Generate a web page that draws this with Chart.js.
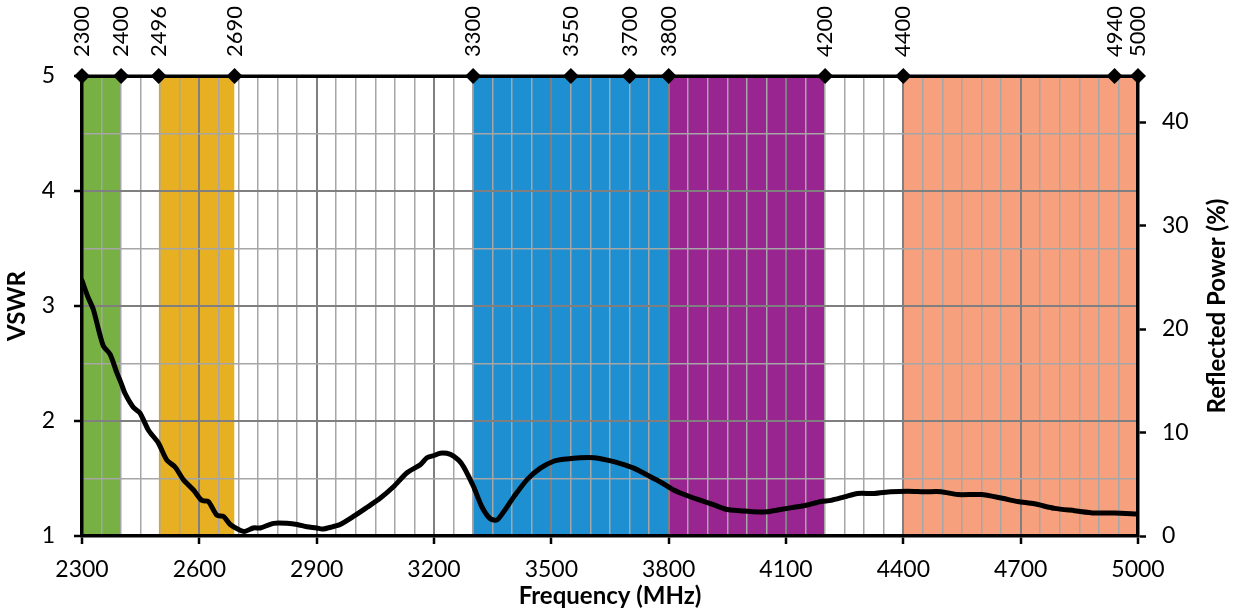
<!DOCTYPE html>
<html>
<head>
<meta charset="utf-8">
<script src="https://cdn.jsdelivr.net/npm/chart.js@4"></script>
<style>
html,body{margin:0;padding:0;background:#fff;}
#wrap{width:1235px;height:611px;position:relative;}
</style>
</head>
<body>
<div id="wrap"><canvas id="c"></canvas></div>
<script>
// ---- data ----
const freqMHz = [2300,2315,2329,2342,2355,2372,2389,2400,2410,2431,2448,2470,2495,2517,2538,2559,2585,2606,2623,2645,2662,2679,2704,2717,2738,2756,2790,2824,2850,2875,2900,2914,2940,2960,2994,3029,3063,3097,3131,3165,3182,3200,3216,3242,3263,3276,3301,3323,3344,3361,3378,3404,3438,3472,3506,3540,3574,3609,3643,3677,3711,3745,3779,3813,3848,3882,3916,3950,3984,4018,4052,4086,4121,4155,4189,4215,4249,4283,4326,4368,4411,4454,4497,4539,4599,4650,4693,4735,4787,4838,4889,4940,5000];
const vswr = [3.22,3.08,2.97,2.80,2.65,2.58,2.42,2.33,2.24,2.12,2.07,1.92,1.81,1.66,1.60,1.49,1.40,1.31,1.30,1.18,1.17,1.10,1.05,1.04,1.07,1.07,1.11,1.11,1.10,1.08,1.07,1.06,1.08,1.10,1.17,1.25,1.33,1.43,1.55,1.62,1.68,1.70,1.72,1.71,1.66,1.60,1.43,1.25,1.15,1.14,1.21,1.34,1.49,1.59,1.65,1.67,1.68,1.68,1.66,1.63,1.59,1.53,1.47,1.40,1.35,1.31,1.27,1.23,1.22,1.21,1.21,1.23,1.25,1.27,1.30,1.31,1.34,1.37,1.37,1.385,1.39,1.385,1.385,1.36,1.36,1.33,1.30,1.28,1.24,1.22,1.20,1.20,1.19];
const bandStart = [2300, 2496, 3300, 3800, 4400];
const bandEnd   = [2400, 2690, 3800, 4200, 5000];
const bandColors = ['#77b043', '#e6b022', '#1e8fd0', '#982590', '#f6a07d'];
const markerFreqs = [2300, 2400, 2496, 2690, 3300, 3550, 3700, 3800, 4200, 4400, 4940, 5000];
const xMin = 2300, xMax = 5000, xMinorStep = 50, xMajorStep = 300;
const yMin = 1, yMax = 5, yMinorStep = 0.25;
const powerMin = 0, powerStep = 10;
const powerMax = Math.pow((yMax - 1) / (yMax + 1), 2) * 100;

// ---- chart ----
Chart.defaults.font.family = 'Lato';
Chart.defaults.color = '#000';

const TOP_FONT = 22;
const TITLE_FONT = 24;

const isMult = (v, base, step) => Math.abs((v - base) / step - Math.round((v - base) / step)) < 1e-6;
const xMajor = v => isMult(v, xMin, xMajorStep);
const yMajor = v => isMult(v, 0, 1);

const datasets = [];
bandStart.forEach((s, i) => {
  datasets.push({
    data: [{x: s, y: yMax}, {x: bandEnd[i], y: yMax}],
    fill: 'start',
    backgroundColor: bandColors[i],
    borderColor: 'rgba(0,0,0,0)',
    borderWidth: 0,
    pointRadius: 0,
    xAxisID: 'x', yAxisID: 'y'
  });
});
datasets.push({
  data: freqMHz.map((f, i) => ({x: f, y: vswr[i]})),
  borderColor: '#000',
  borderWidth: 5,
  pointRadius: 0,
  fill: false,
  tension: 0.25,
  borderCapStyle: 'round',
  borderJoinStyle: 'round',
  xAxisID: 'x', yAxisID: 'y'
});
datasets.push({
  data: markerFreqs.map(f => ({x: f, y: yMax})),
  borderColor: '#000',
  borderWidth: 3,
  pointStyle: 'rectRot',
  pointRadius: 8,
  pointBackgroundColor: '#000',
  pointBorderColor: '#000',
  pointBorderWidth: 0,
  fill: false,
  clip: false,
  xAxisID: 'x', yAxisID: 'y'
});

const rightTitle = {
  id: 'rightTitle',
  afterDraw(chart) {
    const s = chart.scales.y2;
    const ca = chart.chartArea;
    const ctx = chart.ctx;
    ctx.save();
    ctx.translate(s.right - 18, (ca.top + ca.bottom) / 2);
    ctx.rotate(-Math.PI / 2);
    ctx.font = 'bold ' + TITLE_FONT + 'px Lato';
    ctx.fillStyle = '#000';
    ctx.textAlign = 'center';
    ctx.textBaseline = 'middle';
    ctx.fillText('Reflected Power (%)', 0, 0);
    ctx.restore();
  }
};

new Chart(document.getElementById('c'), {
  type: 'line',
  data: {datasets},
  plugins: [rightTitle],
  options: {
    responsive: true,
    maintainAspectRatio: false,
    animation: false,
    events: [],
    layout: {padding: 0},
    plugins: {
      legend: {display: false},
      tooltip: {enabled: false},
      filler: {drawTime: 'beforeDraw'}
    },
    scales: {
      x: {
        type: 'linear', position: 'bottom', min: xMin, max: xMax,
        afterFit: s => { s.height = 75; },
        ticks: {
          stepSize: xMinorStep, autoSkip: false, maxRotation: 0, minRotation: 0,
          callback: v => xMajor(v) ? String(v) : '',
          font: {size: 23}, color: '#000', padding: 12
        },
        grid: {
          color: c => (c.tick && xMajor(c.tick.value)) ? '#7f7f7f' : '#a6a6a6',
          lineWidth: c => (c.tick && xMajor(c.tick.value)) ? 2 : 1.5,
          tickColor: c => (c.tick && xMajor(c.tick.value)) ? '#000' : 'rgba(0,0,0,0)',
          tickLength: 8, tickWidth: 2.5
        },
        border: {color: '#000', width: 3.5},
        title: {display: true, text: 'Frequency (MHz)', font: {size: TITLE_FONT, weight: 'bold'}, color: '#000', padding: 0}
      },
      x2: {
        type: 'linear', position: 'top', min: xMin, max: xMax,
        afterFit: s => { s.height = 76; },
        afterBuildTicks: s => { s.ticks = markerFreqs.map(v => ({value: v})); },
        ticks: {
          autoSkip: false, minRotation: 90, maxRotation: 90,
          callback: v => String(v),
          labelOffset: TOP_FONT * 1.2,
          font: {size: TOP_FONT}, color: '#000', padding: 19
        },
        grid: {display: false, drawTicks: false},
        border: {display: true, color: '#000', width: 3}
      },
      y: {
        type: 'linear', position: 'left', min: yMin, max: yMax,
        afterFit: s => { s.width = 82; },
        ticks: {
          stepSize: yMinorStep,
          callback: v => yMajor(v) ? String(v) : '',
          font: {size: 23}, color: '#000', padding: 19
        },
        grid: {
          color: c => (c.tick && yMajor(c.tick.value)) ? '#7f7f7f' : '#a6a6a6',
          lineWidth: c => (c.tick && yMajor(c.tick.value)) ? 2 : 1.5,
          tickColor: c => (c.tick && yMajor(c.tick.value)) ? '#000' : 'rgba(0,0,0,0)',
          tickLength: 8, tickWidth: 2.5
        },
        border: {color: '#000', width: 3.5},
        title: {display: true, text: 'VSWR', font: {size: TITLE_FONT, weight: 'bold'}, color: '#000', padding: {top: 3, bottom: 0}}
      },
      y2: {
        type: 'linear', position: 'right', min: powerMin, max: powerMax,
        afterFit: s => { s.width = 97; },
        ticks: {
          stepSize: powerStep, includeBounds: false,
          callback: v => isMult(v, 0, powerStep) ? String(v) : '',
          font: {size: 23}, color: '#000', padding: 16
        },
        grid: {drawOnChartArea: false, tickColor: '#000', tickLength: 8, tickWidth: 2.5},
        border: {color: '#000', width: 3.5}
      }
    }
  }
});
</script>
</body>
</html>
